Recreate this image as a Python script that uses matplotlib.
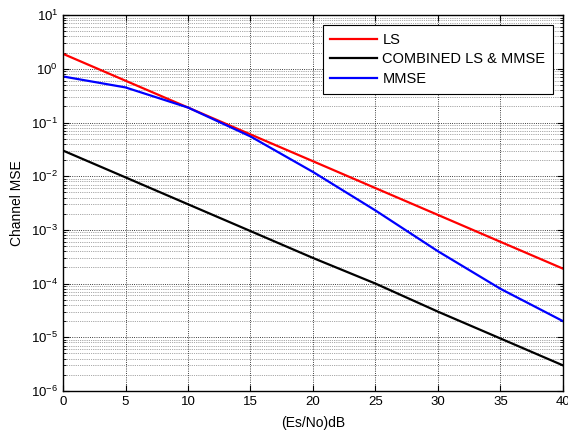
import numpy as np
import matplotlib
matplotlib.use('Agg')
import matplotlib.pyplot as plt
from matplotlib.ticker import LogLocator, NullFormatter

plt.rcParams['font.family'] = ['Liberation Sans', 'DejaVu Sans']

# data
snr = [0, 5, 10, 15, 20, 25, 30, 35, 40]
ls_mse = [1.9, 0.6, 0.19, 0.06, 0.019, 0.006, 0.0019, 0.0006, 0.00019]
combined_mse = [0.03, 0.0095, 0.003, 0.00095, 0.0003, 0.0001, 0.00003, 0.0000095, 0.000003]
mmse_mse = [0.72, 0.45, 0.19, 0.055, 0.012, 0.0023, 0.0004, 0.00008, 0.00002]

fig = plt.figure(figsize=(5.68, 4.32), dpi=100)
ax = fig.add_axes([0.111, 0.095, 0.880, 0.870])

ax.semilogy(snr, ls_mse, color='r', lw=1.6, label='LS')
ax.semilogy(snr, combined_mse, color='k', lw=1.6, label='COMBINED LS & MMSE')
ax.semilogy(snr, mmse_mse, color='b', lw=1.6, label='MMSE')

ax.set_xlim(0, 40)
ax.set_ylim(1e-6, 1e1)
ax.set_xticks(np.arange(0, 41, 5))
ax.yaxis.set_major_locator(LogLocator(base=10, numticks=10))
ax.yaxis.set_minor_locator(LogLocator(base=10, subs=np.arange(2, 10), numticks=20))
ax.yaxis.set_minor_formatter(NullFormatter())

ax.grid(True, which='major', linestyle=':', color='k', lw=0.6)
ax.grid(True, which='minor', axis='y', linestyle=':', color='#555555', lw=0.5)

ax.tick_params(which='both', direction='in', top=True, right=True, labelsize=9.5)
ax.tick_params(which='major', length=4)
ax.tick_params(which='minor', length=2)
for s in ax.spines.values():
    s.set_linewidth(1.0)

ax.set_xlabel('(Es/No)dB', fontsize=10, labelpad=6)
ax.set_ylabel('Channel MSE', fontsize=10, labelpad=5)

leg = ax.legend(loc='upper right', fontsize=10.5, fancybox=False, framealpha=1,
                edgecolor='k', borderaxespad=0.7, handlelength=3.2,
                handletextpad=0.4, labelspacing=0.4, borderpad=0.5)
leg.get_frame().set_linewidth(0.8)

fig.savefig('out.png', dpi=100)
